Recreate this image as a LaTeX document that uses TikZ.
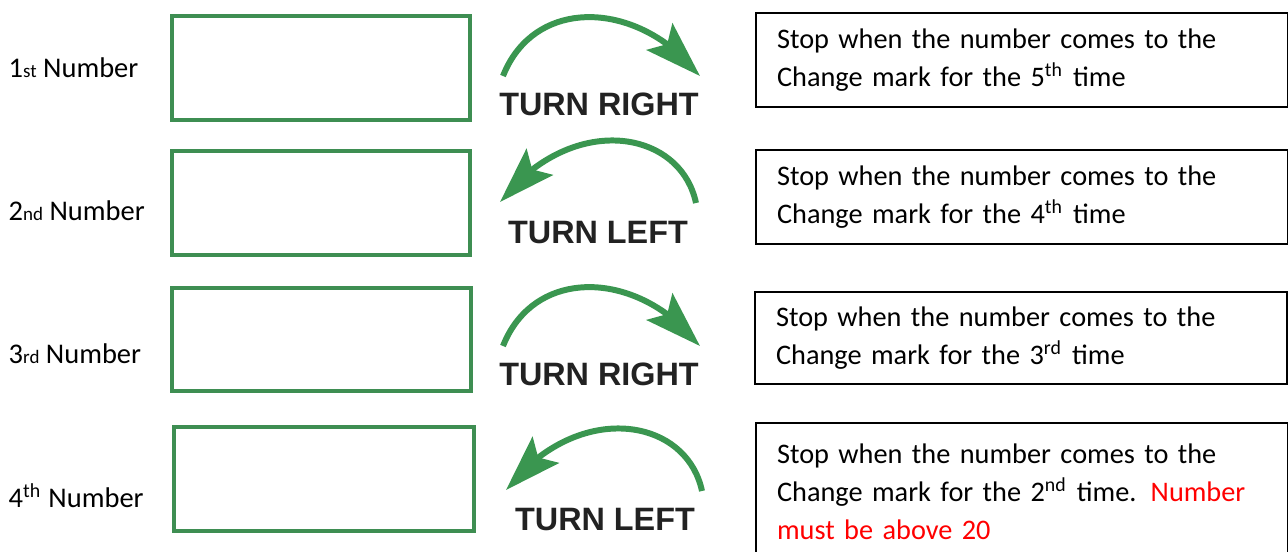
\documentclass[tikz,border=0pt]{standalone}
\usepackage{fontspec}
\setmainfont{Carlito}
\newfontfamily\turnfont{Liberation Sans}
\usepackage{xcolor}
\usetikzlibrary{arrows.meta,bending,positioning}
\definecolor{colorbox}{HTML}{3E8E52}
\definecolor{colorarr}{HTML}{3A9650}
\definecolor{colornote}{HTML}{FF0000}
\definecolor{colorturn}{HTML}{222222}
\tikzset{numlabel/.style={draw=none, inner sep=0pt, anchor=base west, font=\fontsize{8.1}{10.8}\selectfont}}
\tikzset{numbox/.style={draw=colorbox, line width=1.1pt, inner sep=0pt, anchor=north west, minimum width=2.98cm, minimum height=1.04cm}}
\tikzset{stopbox/.style={draw=black, line width=0.6pt, anchor=north west, inner xsep=0.21cm, inner ysep=0pt,
  minimum width=5.32cm, text width=4.9cm, align=left, font=\fontsize{8.05}{10.8}\selectfont}}
\tikzset{turnlabel/.style={inner sep=0pt, text=colorturn, font=\turnfont\bfseries\fontsize{9.2}{10}\selectfont}}
\tikzset{turnarrow/.style={colorarr, line width=1.7pt, -{Stealth[length=16pt, width=10.5pt, inset=3pt, flex]}}}
\newcommand\smallsuf[1]{{\fontsize{5.4}{6}\selectfont #1}}

\begin{document}
\begin{tikzpicture}[x=0.01cm, y=-0.01cm]
\clip (0,0) rectangle (1288,551);

% number labels
\node[numlabel](n1) at (8,77) {1\smallsuf{st} Number};
\node[numlabel](n2) at (8,220) {2\smallsuf{nd} Number};
\node[numlabel](n3) at (8,363) {3\smallsuf{rd} Number};
\node[numlabel](n4) at (8,507) {4\textsuperscript{th} Number};

% empty green boxes
\node[numbox](b1) at (170,14) {};
\node[numbox](b2) at (170,149) {};
\node[numbox, minimum height=1.03cm, minimum width=2.99cm](b3) at (170,286) {};
\node[numbox, minimum width=3cm](b4) at (172,425) {};

% turn arrows
\coordinate (r1s) at (503,76);
\coordinate (r1e) at (700,76);
\draw[turnarrow] (r1s) .. controls (535,-5) and (640,0) .. (r1e);
\node[turnlabel](t1) at (599,104) {TURN RIGHT};

\coordinate (l2s) at (696,203);
\coordinate (l2e) at (500,202);
\draw[turnarrow] (l2s) .. controls (680,128) and (570,112) .. (l2e);
\node[turnlabel](t2) at (598,233) {TURN LEFT};

\coordinate (r3s) at (503,346);
\coordinate (r3e) at (700,346);
\draw[turnarrow] (r3s) .. controls (535,265) and (640,270) .. (r3e);
\node[turnlabel](t3) at (599,374) {TURN RIGHT};

\coordinate (l4s) at (702,491);
\coordinate (l4e) at (506,490);
\draw[turnarrow] (l4s) .. controls (686,416) and (576,400) .. (l4e);
\node[turnlabel](t4) at (605,520) {TURN LEFT};

% instructions
\node[stopbox, minimum height=0.94cm](s1) at (755,12)
{Stop when the number comes to the\\ Change mark for the 5\textsuperscript{th} time};
\node[stopbox, minimum height=0.94cm](s2) at (755,149)
{Stop when the number comes to the\\ Change mark for the 4\textsuperscript{th} time};
\node[stopbox, minimum height=0.92cm](s3) at (754,291)
{Stop when the number comes to the\\ Change mark for the 3\textsuperscript{rd} time};
\node[stopbox, minimum height=1.37cm](s4) at (755,422)
{Stop when the number comes to the\\ Change mark for the 2\textsuperscript{nd} time. \textcolor{colornote}{Number}\\ \textcolor{colornote}{must be above 20}};
\end{tikzpicture}
\end{document}
